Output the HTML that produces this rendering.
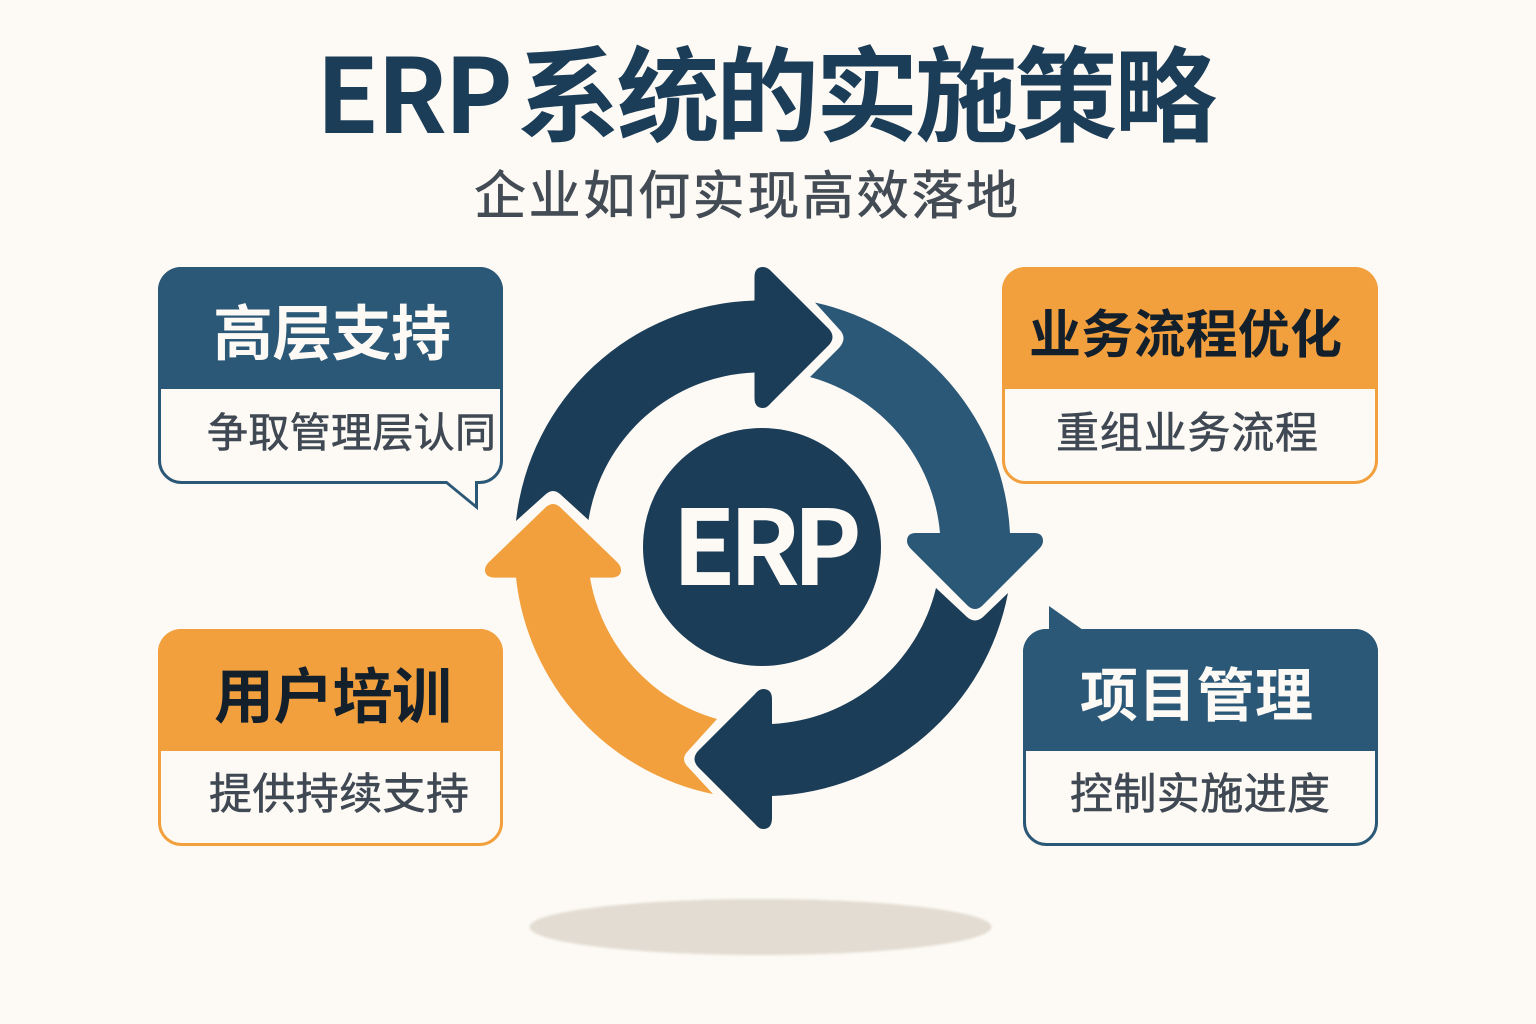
<!DOCTYPE html>
<html lang="zh">
<head>
<meta charset="utf-8">
<title>ERP系统的实施策略</title>
<style>
html,body{margin:0;padding:0;background:#fdfaf5;width:1536px;height:1024px;overflow:hidden}
svg{display:block}
text{font-family:"Liberation Sans","Noto Sans CJK SC",sans-serif}
.cjk{font-family:"Noto Sans CJK SC","Liberation Sans",sans-serif}
.sub{stroke:#3f4853;stroke-width:.6}
</style>
</head>
<body>
<svg width="1536" height="1024" viewBox="0 0 1536 1024" xmlns="http://www.w3.org/2000/svg">
<defs>
<filter id="b" x="-10%" y="-30%" width="120%" height="160%"><feGaussianBlur stdDeviation="1.2"/></filter>
</defs>
<rect width="1536" height="1024" fill="#fdfaf5"/>

<text class="cjk" x="316" y="133" font-size="103" font-weight="700" fill="#1c3d57" textLength="197" lengthAdjust="spacing">ERP</text>
<text class="cjk" x="517" y="133" font-size="103" font-weight="700" fill="#1c3d57" textLength="700" lengthAdjust="spacing">系统的实施策略</text>
<text class="cjk" x="474" y="214" font-size="52" font-weight="400" fill="#434b55" stroke="#434b55" stroke-width=".7" textLength="544" lengthAdjust="spacing">企业如何实现高效落地</text>

<!-- cycle arrows -->
<path fill="#1c3d57" d="M516 521 A247 247 0 0 1 754.5 300.5 L754.5 277 Q754.5 267 763 267 Q767 267 771 271 L829 329 Q836 337 829 345 L771 403 Q767 408 763 408 Q754.5 408 754.5 398 L754.5 372.5 A175 175 0 0 0 588.5 520 L560 494 Q553 488 546 494 Z"/>
<path fill="#2c5878" d="M815 302.5 A249 249 0 0 1 1010 533 L1034 533 Q1043 533 1043 541 Q1043 545 1039 549 L982 606 Q975 612 968 606 L911 549 Q907 545 907 541 Q907 533 916 533 L940 533 A178 178 0 0 0 810 377 L839 348 Q848 338 839 329 Z"/>
<path fill="#1c3d57" d="M1008 593 A250 250 0 0 1 772 796 L772 818 Q772 829 763 829 Q759 829 755 824 L698 767 Q691 759 698 751 L755 694 Q759 689 763 689 Q772 689 772 699 L772 724 A178 178 0 0 0 936 588 L967 617 Q975 624 983 617 Z"/>
<path fill="#f2a03d" d="M717 719 A178 178 0 0 1 590 577.6 L612 577.6 Q621 577 621 570 Q621 566 617 562 L561 508 Q553 500 545 508 L489 562 Q485 566 485 570 Q485 577 494 577.6 L516 577.6 A248 248 0 0 0 713 794 L688 767 Q680 759 688 751 Z"/>

<circle cx="762" cy="547" r="119" fill="#1c3d57"/>
<text class="cjk" x="672" y="585" font-size="104" font-weight="700" fill="#fdfaf5" textLength="190" lengthAdjust="spacing">ERP</text>

<!-- card 1 -->
<path d="M446 482 L476.5 507 L476.5 482 Z" fill="#fdfaf5" stroke="#2c5878" stroke-width="3" stroke-linejoin="miter"/>
<rect x="159.5" y="268.5" width="342" height="214" rx="22" fill="#fdfaf5" stroke="#2c5878" stroke-width="3"/>
<path d="M447 481 L475 481 L475 504 Z" fill="#fdfaf5"/>
<path d="M158 389 V290 A23 23 0 0 1 181 267 H480 A23 23 0 0 1 503 290 V389 Z" fill="#2c5878"/>
<text class="cjk" x="213" y="355" font-size="60" font-weight="700" fill="#fdfaf5" textLength="238" lengthAdjust="spacing">高层支持</text>
<text class="cjk sub" x="207" y="447" font-size="41" font-weight="400" fill="#3f4853" textLength="289" lengthAdjust="spacing">争取管理层认同</text>

<!-- card 2 -->
<rect x="1003.5" y="268.5" width="373" height="214" rx="22" fill="#fdfaf5" stroke="#f2a03d" stroke-width="3"/>
<path d="M1002 389 V290 A23 23 0 0 1 1025 267 H1355 A23 23 0 0 1 1378 290 V389 Z" fill="#f2a03d"/>
<text class="cjk" x="1029" y="353" font-size="52" font-weight="700" fill="#13202c" textLength="313" lengthAdjust="spacing">业务流程优化</text>
<text class="cjk sub" x="1056" y="448" font-size="43" font-weight="400" fill="#3f4853" textLength="262" lengthAdjust="spacing">重组业务流程</text>

<!-- card 3 -->
<rect x="159.5" y="630.5" width="342" height="214" rx="22" fill="#fdfaf5" stroke="#f2a03d" stroke-width="3"/>
<path d="M158 751 V652 A23 23 0 0 1 181 629 H480 A23 23 0 0 1 503 652 V751 Z" fill="#f2a03d"/>
<text class="cjk" x="214" y="718" font-size="60" font-weight="700" fill="#13202c" textLength="238" lengthAdjust="spacing">用户培训</text>
<text class="cjk sub" x="209" y="809" font-size="43" font-weight="400" fill="#3f4853" textLength="260" lengthAdjust="spacing">提供持续支持</text>

<!-- card 4 -->
<path d="M1049 606 L1083 630 L1049 632 Z" fill="#2c5878"/>
<rect x="1024.5" y="630.5" width="352" height="214" rx="22" fill="#fdfaf5" stroke="#2c5878" stroke-width="3"/>
<path d="M1023 751 V652 A23 23 0 0 1 1046 629 H1355 A23 23 0 0 1 1378 652 V751 Z" fill="#2c5878"/>
<text class="cjk" x="1080" y="716" font-size="58" font-weight="700" fill="#fdfaf5" textLength="233" lengthAdjust="spacing">项目管理</text>
<text class="cjk sub" x="1070" y="809" font-size="43" font-weight="400" fill="#3f4853" textLength="260" lengthAdjust="spacing">控制实施进度</text>

<!-- ground shadow -->
<ellipse cx="760.5" cy="927" rx="231" ry="28" fill="#e2dcd2" filter="url(#b)"/>
</svg>
</body>
</html>
